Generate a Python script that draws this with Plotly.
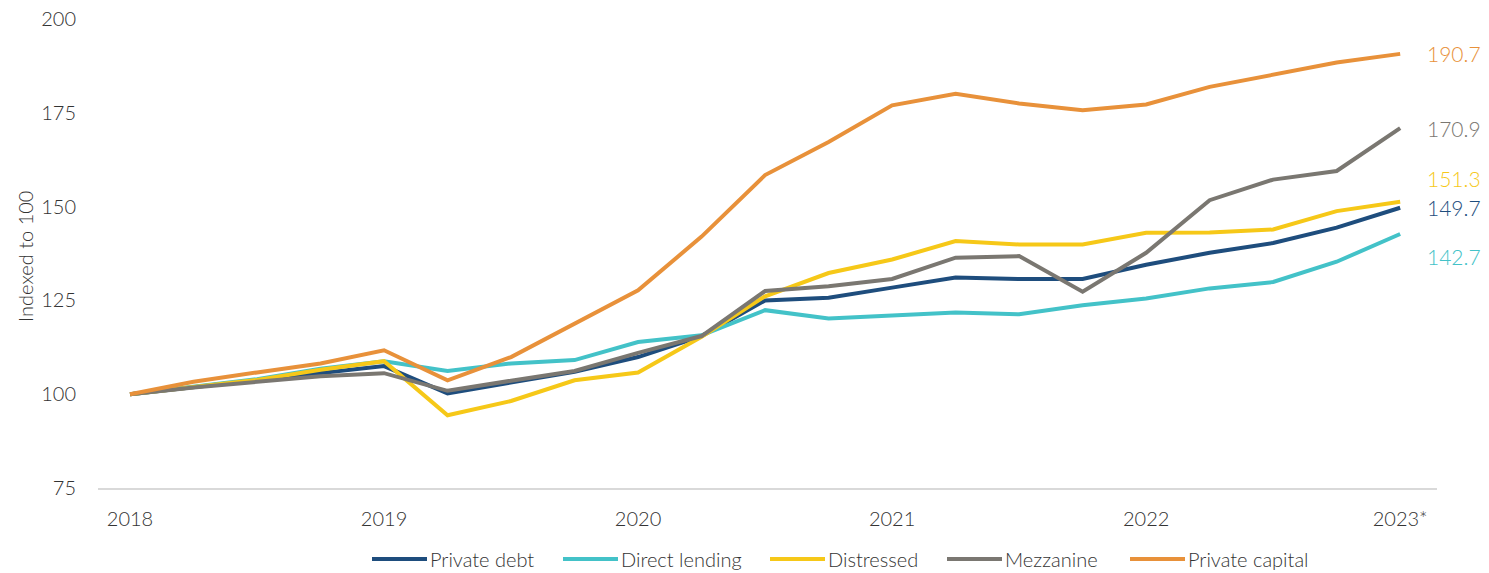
import plotly.graph_objects as go

# Quarterly index levels, Q4 2017 = 100 (21 quarter-end points, 2018 through 2023*)
year_labels = ["2018", "2019", "2020", "2021", "2022", "2023*"]
quarter_idx = list(range(21))

series_names = ["Private debt", "Direct lending", "Distressed", "Mezzanine", "Private capital"]

private_debt = [100, 101.9, 103.6, 105.5, 107.5, 100.2, 103.0, 106.0, 109.9, 115.5, 125.0,
                125.7, 128.4, 131.1, 130.7, 130.7, 134.5, 137.7, 140.3, 144.4, 149.7]
direct_lending = [100, 101.9, 104.0, 106.8, 108.8, 106.2, 108.2, 109.1, 113.9, 115.7, 122.4,
                  120.2, 121.1, 121.8, 121.3, 123.7, 125.5, 128.2, 129.9, 135.3, 142.7]
distressed = [100, 101.9, 103.8, 106.5, 108.8, 94.4, 98.2, 103.7, 105.8, 115.3, 126.1,
              132.3, 135.9, 140.8, 139.9, 139.9, 143.0, 143.1, 143.9, 148.8, 151.3]
mezzanine = [100, 101.8, 103.3, 104.8, 105.6, 100.9, 103.6, 106.2, 111.0, 115.5, 127.5,
             128.8, 130.7, 136.4, 136.8, 127.3, 137.7, 151.7, 157.2, 159.5, 170.9]
private_capital = [100, 103.3, 105.8, 108.2, 111.7, 103.7, 109.9, 118.9, 127.7, 142.0, 158.4,
                   167.2, 177.0, 180.1, 177.5, 175.7, 177.2, 181.9, 185.2, 188.4, 190.7]

all_values = [private_debt, direct_lending, distressed, mezzanine, private_capital]
colors = ["#1E4D7D", "#43C2C8", "#F6C818", "#7A7771", "#E8913A"]
# vertical nudge (px) of the end-value labels so they don't collide
label_shift = [0, -23, 23, 0, 0]

FONT = "Lato, Liberation Sans, sans-serif"
WEIGHT = 300
FS = 20
TEXT = "#333333"

W, H = 1489, 573
L, R, T, B = 98, 52, 19, 85
plot_w = W - L - R
plot_h = H - T - B


def px_to_paper_x(px):
    return (px - L) / plot_w


def px_to_paper_y(py):
    return (H - B - py) / plot_h


def font(color=TEXT, size=FS):
    return dict(family=FONT, size=size, color=color, weight=WEIGHT)


fig = go.Figure()
for name, vals, col in zip(series_names, all_values, colors):
    fig.add_trace(go.Scatter(
        x=quarter_idx, y=vals, name=name, mode="lines",
        line=dict(color=col, width=4), showlegend=False,
    ))

annotations = []
# end-of-series value labels
for vals, col, dy in zip(all_values, colors, label_shift):
    annotations.append(dict(
        x=quarter_idx[-1], y=vals[-1], xref="x", yref="y",
        text=f"{vals[-1]:.1f}", showarrow=False, xanchor="left", yanchor="middle",
        xshift=25, yshift=dy, font=font(col, FS + 1),
    ))

# y-axis title
annotations.append(dict(
    x=px_to_paper_x(25), y=px_to_paper_y(257), xref="paper", yref="paper",
    text="Indexed to 100", textangle=-90, showarrow=False,
    xanchor="center", yanchor="middle", font=font(),
))

# legend drawn as line swatches + labels along the bottom
legend_x = [372, 563, 770, 947, 1130]
legend_y = 559
shapes = []
for name, col, x0 in zip(series_names, colors, legend_x):
    shapes.append(dict(
        type="line", xref="paper", yref="paper",
        x0=px_to_paper_x(x0), x1=px_to_paper_x(x0 + 55),
        y0=px_to_paper_y(legend_y), y1=px_to_paper_y(legend_y),
        line=dict(color=col, width=4),
    ))
    annotations.append(dict(
        x=px_to_paper_x(x0 + 56), y=px_to_paper_y(legend_y), xref="paper", yref="paper",
        text=name, showarrow=False, xanchor="left", yanchor="middle",
        font=font(),
    ))

fig.update_layout(
    width=W, height=H,
    margin=dict(l=L, r=R, t=T, b=B, pad=0, autoexpand=False),
    paper_bgcolor="white", plot_bgcolor="white",
    font=font(),
    showlegend=False,
    annotations=annotations,
    shapes=shapes,
    xaxis=dict(
        range=[-0.504, 20.58], tickmode="array",
        tickvals=[0, 4, 8, 12, 16, 20], ticktext=year_labels,
        showgrid=False, zeroline=False, showline=True,
        linecolor="#d9d9d9", linewidth=2, ticks="",
        ticklabelstandoff=12, automargin=False,
        tickfont=font(),
    ),
    yaxis=dict(
        range=[75, 200], tickmode="array", tickvals=[75, 100, 125, 150, 175, 200],
        showgrid=False, zeroline=False, showline=False, ticks="",
        ticklabelstandoff=21, automargin=False,
        tickfont=font(),
    ),
)

fig.write_html("out.html")
